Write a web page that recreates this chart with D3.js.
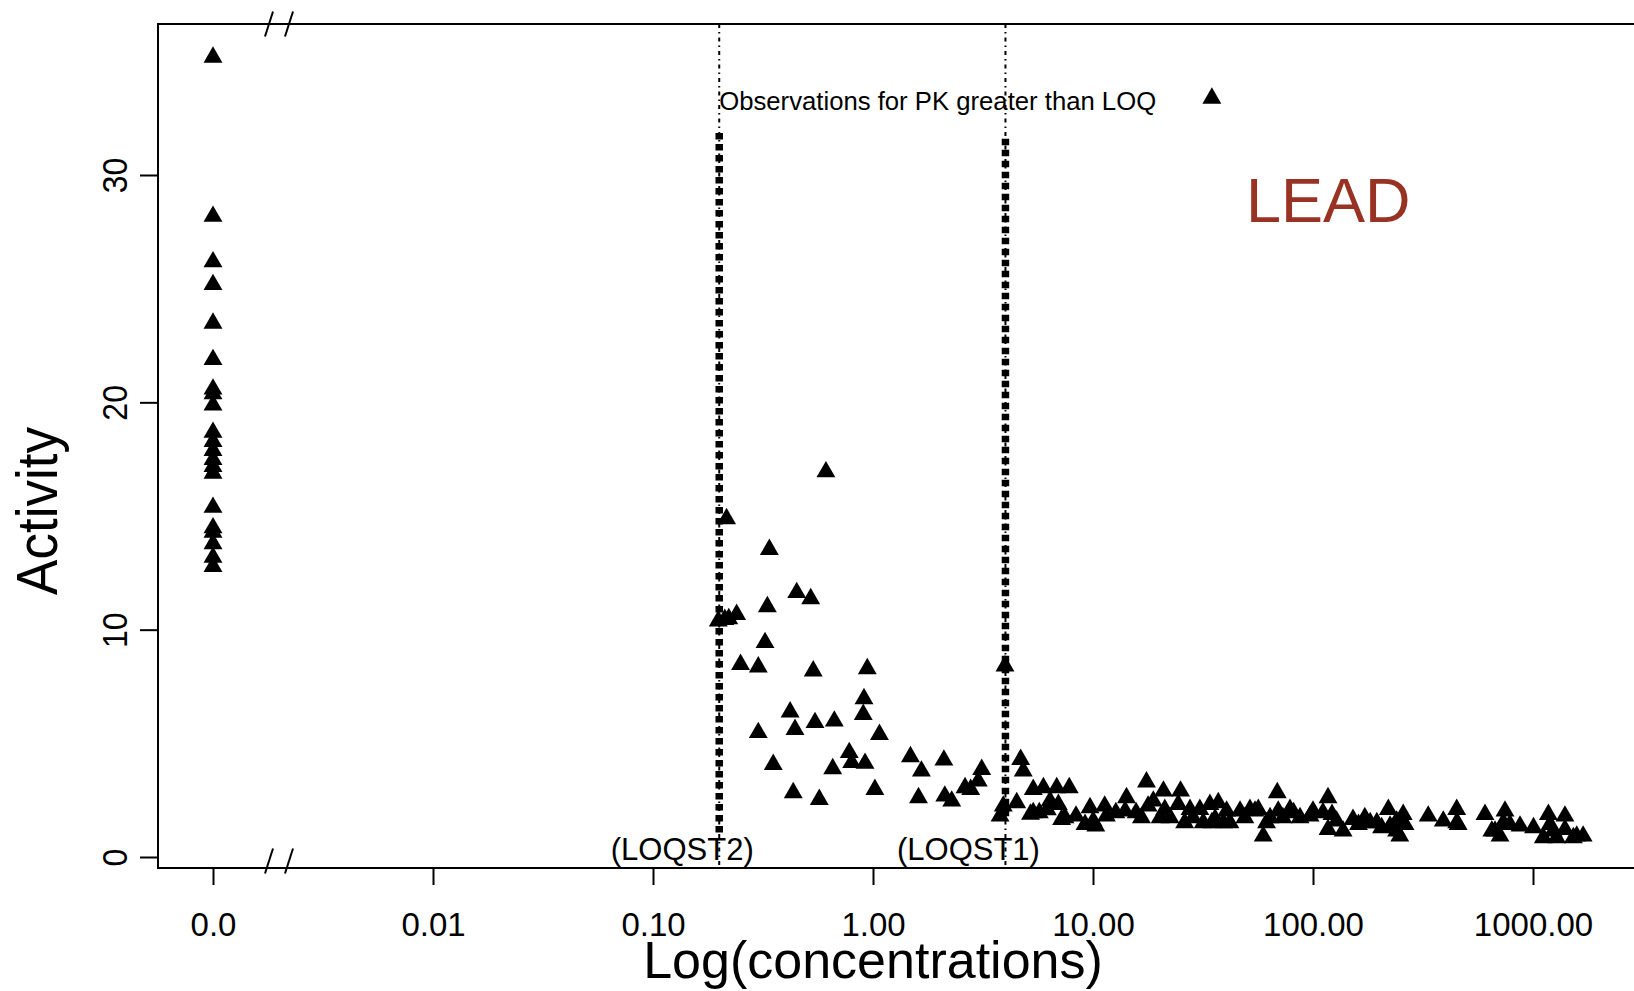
<!DOCTYPE html>
<html><head><meta charset="utf-8">
<script src="https://cdn.jsdelivr.net/npm/d3@7"></script>
<style>
html,body{margin:0;padding:0;background:#fff;overflow:hidden}
text{font-family:"Liberation Sans",Arial,Helvetica,sans-serif}
</style>
</head><body>
<svg id="chart" width="1634" height="991"></svg>
<script>
// ---------------- data ----------------
const zeroActivity = [35.3, 28.3, 26.3, 25.3, 23.6, 22.0, 20.7, 20.5, 20.0, 18.8, 18.4, 18.0, 17.6, 17.3, 17.0, 15.5, 14.6, 14.4, 13.9, 13.3, 12.9];

const concValues = [
  0.611, 0.216, 0.338, 0.45, 0.521, 0.24, 0.331, 0.212, 0.198, 0.221, 0.323, 0.25, 0.301, 0.535, 0.942,
  0.91, 0.903, 0.42, 0.301, 0.442, 0.545, 0.667, 1.07, 0.78, 0.8, 0.92, 0.656, 0.352, 1.48, 1.66,
  2.1, 0.434, 0.57, 1.02, 1.61, 2.12, 2.28, 2.62, 2.78, 3.01, 3.12, 3.98, 3.91, 3.78, 4.69, 4.82, 4.5,
  5.35, 5.95, 6.84, 7.8, 5.35, 6.38, 6.96, 7.46, 8.37, 9.69, 10.02, 11.3, 11.5, 14.2, 14.0, 16.6, 17.5,
  18.8, 20.9, 21.2, 22.4, 25.0, 24.4, 27.6, 30.6, 31.7, 34.0, 37.1, 39.1, 40.5, 46.6, 51.7, 56.4, 59.4,
  61.5, 68.8, 69.5, 78.6, 34.7,
  5.2, 5.7, 6.2, 7.2, 9.2, 10.3, 12.7, 15.7, 17.8, 20.2, 26.1, 28.5, 35.9, 41.9, 49.0, 54.5, 63.8, 73,
  81.6, 87.3, 97, 100, 111, 117, 122, 117, 128, 137, 152, 161, 172, 182, 195, 205, 220, 224, 240, 240,
  248, 257, 262, 334, 391, 450, 450, 457, 605, 650, 672, 708, 733, 746, 785, 873, 1005, 1114, 1175,
  1195, 1235, 1280, 1397, 1397, 1525, 1580, 1690,
  34.7
];
const concActivity = [
  17.06, 15.0, 13.65, 11.75, 11.48, 10.79, 11.13, 10.57, 10.5, 10.6, 9.55, 8.59, 8.48, 8.3, 8.4,
  7.08, 6.39, 6.5, 5.59, 5.73, 6.03, 6.1, 5.51, 4.71, 4.27, 4.24, 4.0, 4.19, 4.53, 3.9,
  4.38, 2.95, 2.65, 3.09, 2.73, 2.8, 2.58, 3.17, 3.09, 3.46, 3.97, 8.52, 2.36, 1.92, 4.41, 3.9, 2.51,
  3.09, 3.17, 3.17, 3.17, 2.07, 2.58, 2.43, 1.85, 1.92, 2.29, 1.70, 2.36, 1.92, 2.73, 2.14, 1.85, 3.42,
  2.58, 3.02, 2.21, 1.85, 3.02, 2.43, 2.21, 2.21, 1.63, 2.43, 2.51, 1.63, 2.14, 2.14, 2.21, 2.21, 1.04,
  1.63, 2.95, 2.14, 2.21, 1.63,
  2.0, 2.07, 2.2, 1.77, 1.55, 1.48, 2.07, 2.07, 2.36, 1.85, 1.63, 1.85, 1.8, 1.63, 1.85, 2.14, 1.85, 1.85,
  2.07, 1.85, 1.92, 2.14, 2.07, 2.73, 1.99, 1.33, 1.7, 1.26, 1.77, 1.55, 1.85, 1.63, 1.63, 1.41, 2.21, 1.48, 1.7, 1.26,
  1.04, 1.99, 1.55, 1.92, 1.70, 2.21, 1.63, 1.55, 1.99, 1.26, 1.26, 1.04, 1.63, 2.14, 1.55, 1.48, 1.41, 0.97, 1.99,
  1.55, 1.26, 0.97, 1.92, 1.33, 0.97, 1.04, 1.04,
  33.5
];

const loqValues = [0.2, 4];
const loqLabels = ["(LOQST2)", "(LOQST1)"];
const loqThickTop = [31.85, 31.6];
const loqThickBottom = [1.0, 1.6];

const xTickValues = [0.001, 0.01, 0.1, 1, 10, 100, 1000];
const xTickLabels = ["0.0", "0.01", "0.10", "1.00", "10.00", "100.00", "1000.00"];
const yTickValues = [0, 10, 20, 30];

const zeroPosition = 0.001;      // where concentration 0 is drawn (the "0.0" tick)
const annotationText = "Observations for PK greater than LOQ";
const annotationActivity = 32.86;
const panelLabel = "LEAD";
const xTitle = "Log(concentrations)";
const yTitle = "Activity";

// ---------------- layout ----------------
const svg = d3.select("#chart");
const box = {left: 158, top: 24, right: 1660, bottom: 868};

const x = d3.scaleLog().domain([0.001, 1000]).range([213, 1533]);
const y = d3.scaleLinear().domain([0, 30]).range([857, 175]);

svg.append("rect").attr("width", 1634).attr("height", 991).attr("fill", "#fff");

// LOQ lines (thin dot-dash over full height, thick dashed segment)
const loqG = svg.append("g");
loqValues.forEach((v, i) => {
  loqG.append("line")
    .attr("x1", x(v)).attr("x2", x(v))
    .attr("y1", box.top).attr("y2", box.bottom)
    .attr("stroke", "#000").attr("stroke-width", 2)
    .attr("stroke-dasharray", "4,4,1.5,4");
  loqG.append("line")
    .attr("x1", x(v)).attr("x2", x(v))
    .attr("y1", y(loqThickTop[i])).attr("y2", y(loqThickBottom[i]))
    .attr("stroke", "#000").attr("stroke-width", 7.5)
    .attr("stroke-dasharray", "6.5,4.5");
  svg.append("text")
    .attr("x", x(v) - 37).attr("y", 860)
    .attr("text-anchor", "middle")
    .attr("font-size", 31)
    .attr("fill", "#000")
    .text(loqLabels[i]);
});

// box
svg.append("rect")
  .attr("x", box.left).attr("y", box.top)
  .attr("width", box.right - box.left).attr("height", box.bottom - box.top)
  .attr("fill", "none").attr("stroke", "#000").attr("stroke-width", 2);

// axis breaks
[box.top, 861].forEach(cy => {
  [269, 289].forEach(cx => {
    svg.append("line")
      .attr("x1", cx - 4).attr("y1", cy + 12.5)
      .attr("x2", cx + 4).attr("y2", cy - 12.5)
      .attr("stroke", "#000").attr("stroke-width", 2);
  });
});

// x axis
const xAxis = svg.append("g")
  .attr("transform", `translate(0,${box.bottom})`)
  .call(d3.axisBottom(x).tickValues(xTickValues).tickFormat((d, i) => xTickLabels[i]).tickSize(17));
xAxis.select(".domain").remove();
xAxis.selectAll(".tick line").attr("stroke", "#000").attr("stroke-width", 2);
xAxis.selectAll(".tick text")
  .attr("y", 68).attr("dy", null)
  .attr("font-size", 33).attr("fill", "#000")
  .attr("font-family", '"Liberation Sans",Arial,sans-serif');

// y axis
const yAxis = svg.append("g")
  .attr("transform", `translate(${box.left},0)`)
  .call(d3.axisLeft(y).tickValues(yTickValues).tickSize(18));
yAxis.select(".domain").remove();
yAxis.selectAll(".tick line").attr("stroke", "#000").attr("stroke-width", 2);
yAxis.selectAll(".tick text")
  .attr("x", null).attr("dy", null)
  .attr("text-anchor", "middle")
  .attr("transform", "translate(-31,0) rotate(-90) scale(1,1.12)")
  .attr("font-size", 32).attr("fill", "#000")
  .attr("font-family", '"Liberation Sans",Arial,sans-serif');

// axis titles
svg.append("text")
  .attr("x", x(1)).attr("y", 978)
  .attr("text-anchor", "middle")
  .attr("font-size", 52).attr("fill", "#000")
  .text(xTitle);
svg.append("text")
  .attr("transform", `translate(57,511) rotate(-90) scale(1,1.08)`)
  .attr("text-anchor", "middle")
  .attr("font-size", 53).attr("fill", "#000")
  .text(yTitle);

// annotations
svg.append("text")
  .attr("x", x(loqValues[0])).attr("y", y(annotationActivity))
  .attr("font-size", 25.7).attr("fill", "#000")
  .text(annotationText);
svg.append("text")
  .attr("x", 1246).attr("y", 222)
  .attr("font-size", 63).attr("fill", "#983222")
  .text(panelLabel);

// points
const triSize = 155;
const triOffset = Math.sqrt(triSize / (Math.sqrt(3) * 3)) / 2;
const tri = d3.symbol(d3.symbolTriangle, triSize);
const points = zeroActivity.map(a => ({c: 0, a}))
  .concat(concValues.map((c, i) => ({c, a: concActivity[i]})));
svg.append("g").selectAll("path")
  .data(points).join("path")
  .attr("d", tri)
  .attr("transform", d => `translate(${x(d.c === 0 ? zeroPosition : d.c)},${y(d.a) + triOffset})`)
  .attr("fill", "#000");
</script>
</body></html>
